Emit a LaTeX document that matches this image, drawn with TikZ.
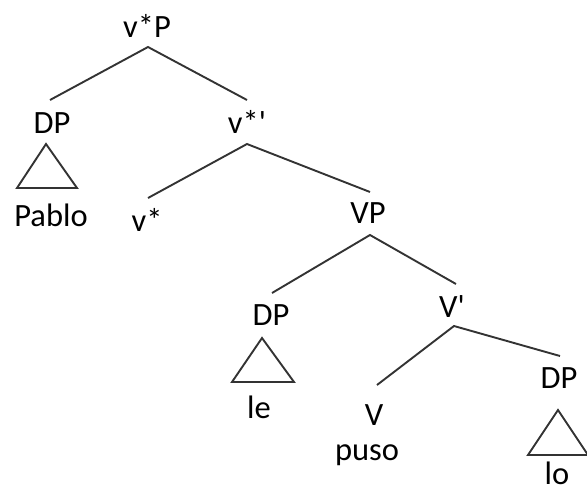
\documentclass[tikz,border=0pt]{standalone}
\usepackage{fontspec}
\setmainfont{Carlito}
\begin{document}
\begin{tikzpicture}[x=1pt,y=-1pt,
  lbl/.style={anchor=base,inner sep=0pt,font=\fontsize{32.5}{38}\selectfont,text=black},
  br/.style={draw=black!80,line width=1.9pt},
  tri/.style={draw=black!80,line width=1.9pt,line join=miter}]
\useasboundingbox (0,0) rectangle (587,485);
% labels
\node[lbl] (vP) at (147,37) {v*P};
\node[lbl] (DP1) at (52,133) {DP};
\node[lbl] (vbar) at (247,133) {v*\textquotesingle};
\node[lbl] (Pablo) at (51,226) {Pablo};
\node[lbl] (vs) at (147,231) {v*};
\node[lbl] (VP) at (368,223) {VP};
\node[lbl] (DP2) at (271,325) {DP};
\node[lbl] (le) at (259,418) {le};
\node[lbl] (Vbar) at (452,317) {V\textquotesingle};
\node[lbl] (V) at (374,425) {V};
\node[lbl] (puso) at (367,460) {puso};
\node[lbl] (DP3) at (559,388) {DP};
\node[lbl] (lo) at (557,484) {lo};
% attachment points
\coordinate (vP-b) at (148,47);
\coordinate (DP1-t) at (50,100);
\coordinate (vbar-t) at (247,100);
\coordinate (vbar-b) at (247,144);
\coordinate (vs-t) at (148,198);
\coordinate (VP-t) at (370,192);
\coordinate (VP-b) at (370,235);
\coordinate (DP2-t) at (272,293);
\coordinate (Vbar-t) at (456,284);
\coordinate (Vbar-b) at (454,326);
\coordinate (V-t) at (377,385);
\coordinate (DP3-t) at (560,356);
% branches
\draw[br] (DP1-t) -- (vP-b) -- (vbar-t);
\draw[br] (vs-t) -- (vbar-b) -- (VP-t);
\draw[br] (DP2-t) -- (VP-b) -- (Vbar-t);
\draw[br] (V-t) -- (Vbar-b) -- (DP3-t);
% triangles
\draw[tri] (46,144) -- (17,188) -- (77,188) -- cycle;
\draw[tri] (262,338) -- (232,382) -- (294,382) -- cycle;
\draw[tri] (558,410) -- (528,455) -- (588,455) -- cycle;
\end{tikzpicture}
\end{document}
